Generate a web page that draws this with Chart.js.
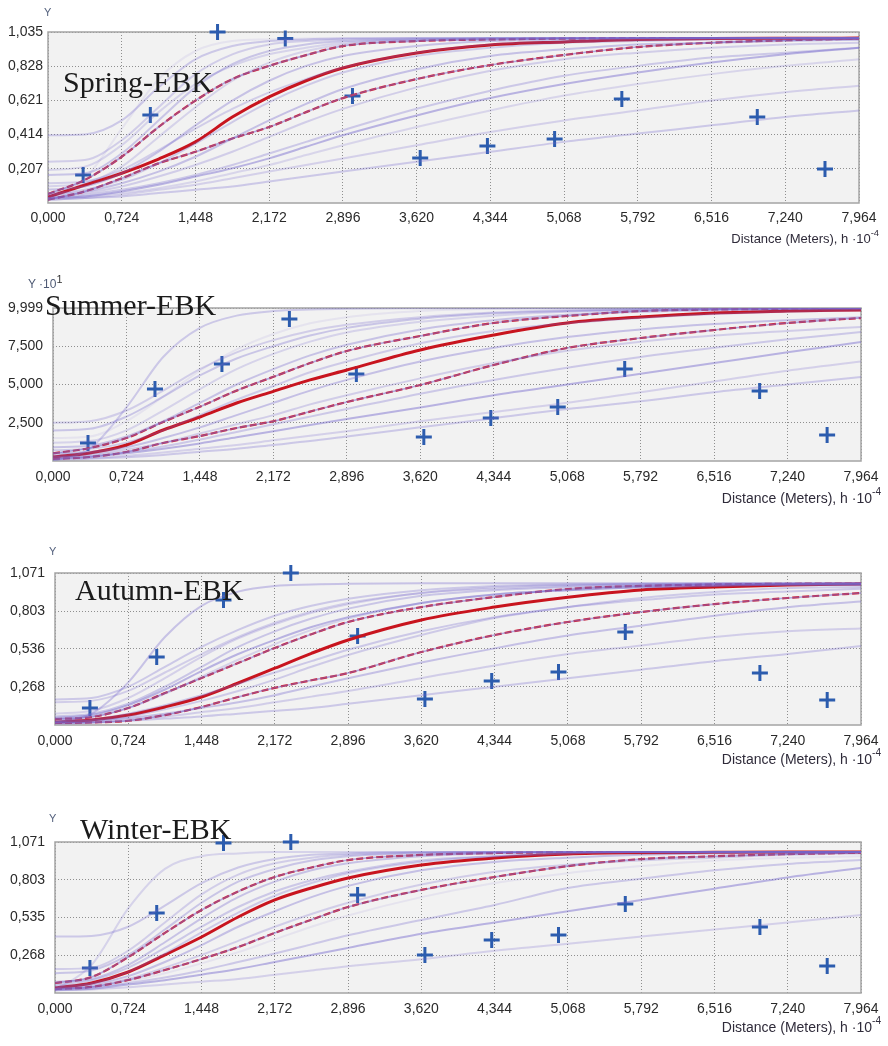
<!DOCTYPE html>
<html>
<head>
<meta charset="utf-8">
<title>EBK semivariograms by season</title>
<script src="https://cdn.jsdelivr.net/npm/chart.js@4.4.1/dist/chart.umd.min.js"></script>
<style>
  html, body { margin: 0; padding: 0; background: #ffffff; }
  #page { position: relative; width: 888px; height: 1046px; overflow: hidden; }
  .panel { position: absolute; left: 0; width: 888px; }
  .panel canvas { position: absolute; left: 0; top: 0; }
  .season { position: absolute; font-family: "Liberation Serif", "Times New Roman", serif; font-size: 30px;
            line-height: 1; color: #1b1b1b; white-space: nowrap; }
  .ylab { position: absolute; font-family: "Liberation Sans", Arial, sans-serif; font-size: 11px;
          line-height: 1; color: #55627e; white-space: nowrap; }
  .xcap { position: absolute; font-family: "Liberation Sans", Arial, sans-serif; font-size: 14px;
          line-height: 1; color: #2f2b3a; white-space: nowrap; }
  sup { font-size: 72%; vertical-align: top; position: relative; top: -0.35em; }
</style>
</head>
<body>
<div id="page">
  <div class="panel" style="top:0px;height:250px"><canvas id="springChart" width="888" height="250"></canvas></div>
  <div class="panel" style="top:260px;height:250px"><canvas id="summerChart" width="888" height="250"></canvas></div>
  <div class="panel" style="top:525px;height:250px"><canvas id="autumnChart" width="888" height="250"></canvas></div>
  <div class="panel" style="top:795px;height:251px"><canvas id="winterChart" width="888" height="251"></canvas></div>

  <div class="season" style="left:63px;top:67px">Spring-EBK</div>
  <div class="season" style="left:45px;top:290px">Summer-EBK</div>
  <div class="season" style="left:75px;top:575px">Autumn-EBK</div>
  <div class="season" style="left:80px;top:814px">Winter-EBK</div>

  <div class="ylab" style="left:44px;top:7px">Y</div>
  <div class="ylab" style="left:28px;top:278px;font-size:12px;color:#4e5a74">Y ·10<sup style="color:#333;font-size:90%">1</sup></div>
  <div class="ylab" style="left:49px;top:546px">Y</div>
  <div class="ylab" style="left:49px;top:813px">Y</div>

  <div class="xcap" style="right:9px;top:232px;font-size:13px">Distance (Meters), h ·10<sup>-4</sup></div>
  <div class="xcap" style="right:7px;top:491px">Distance (Meters), h ·10<sup>-4</sup></div>
  <div class="xcap" style="right:7px;top:752px">Distance (Meters), h ·10<sup>-4</sup></div>
  <div class="xcap" style="right:7px;top:1020px">Distance (Meters), h ·10<sup>-4</sup></div>
</div>

<script>
// ---- shared distances (h, in units of 10^4 m) ----
const lagDistances = [0.345, 1.005, 1.665, 2.33, 2.99, 3.655, 4.315, 4.975, 5.635, 6.965, 7.63];
const curveDistances = [0, 0.362, 0.724, 1.086, 1.448, 1.81, 2.172, 2.534, 2.896, 3.62, 4.344, 5.068, 5.792, 6.516, 7.24, 7.964];
const xTickValues = [0, 0.724, 1.448, 2.172, 2.896, 3.62, 4.344, 5.068, 5.792, 6.516, 7.24, 7.964];
const xTickLabels = ['0,000', '0,724', '1,448', '2,172', '2,896', '3,620', '4,344', '5,068', '5,792', '6,516', '7,240', '7,964'];

// ---- Spring ----
const springYTicks = [0.207, 0.414, 0.621, 0.828, 1.035];
const springYLabels = ['0,207', '0,414', '0,621', '0,828', '1,035'];
const springEmpirical = [0.17, 0.533, 1.035, 0.995, 0.648, 0.272, 0.345, 0.387, 0.63, 0.52, 0.206];
const springMedian = [0.036, 0.109, 0.18, 0.266, 0.37, 0.52, 0.642, 0.74, 0.817, 0.908, 0.956, 0.975, 0.99, 0.995, 0.997, 0.998];
const springUpper  = [0.055, 0.14, 0.28, 0.46, 0.62, 0.75, 0.83, 0.895, 0.95, 0.98, 0.99, 0.995, 0.997, 0.998, 0.998, 0.998];
const springLower  = [0.02, 0.07, 0.15, 0.24, 0.31, 0.39, 0.46, 0.55, 0.635, 0.75, 0.835, 0.896, 0.944, 0.97, 0.985, 0.995];
const springSpectrum = [
  [0.41, 0.415, 0.50, 0.70, 0.87, 0.95, 0.98, 0.99, 0.995, 0.998, 0.998, 0.998, 0.998, 0.998, 0.998, 0.998],
  [0.25, 0.26, 0.38, 0.58, 0.78, 0.90, 0.96, 0.98, 0.99, 0.995, 0.998, 0.998, 0.998, 0.998, 0.998, 0.998],
  [0.17, 0.18, 0.30, 0.50, 0.70, 0.84, 0.92, 0.96, 0.98, 0.99, 0.995, 0.998, 0.998, 0.998, 0.998, 0.998],
  [0.10, 0.12, 0.22, 0.40, 0.58, 0.74, 0.85, 0.92, 0.96, 0.985, 0.99, 0.995, 0.998, 0.998, 0.998, 0.998],
  [0.08, 0.10, 0.18, 0.31, 0.47, 0.62, 0.74, 0.83, 0.89, 0.95, 0.98, 0.99, 0.995, 0.998, 0.998, 0.998],
  [0.06, 0.08, 0.14, 0.24, 0.36, 0.49, 0.61, 0.71, 0.79, 0.89, 0.94, 0.97, 0.98, 0.99, 0.99, 0.99],
  [0.05, 0.07, 0.12, 0.19, 0.28, 0.39, 0.50, 0.60, 0.69, 0.81, 0.89, 0.93, 0.96, 0.97, 0.98, 0.99],
  [0.04, 0.06, 0.10, 0.16, 0.23, 0.31, 0.40, 0.49, 0.57, 0.70, 0.80, 0.87, 0.91, 0.94, 0.96, 0.97],
  [0.03, 0.05, 0.08, 0.12, 0.17, 0.23, 0.30, 0.37, 0.44, 0.57, 0.68, 0.77, 0.83, 0.88, 0.91, 0.94],
  [0.03, 0.04, 0.07, 0.11, 0.16, 0.21, 0.27, 0.34, 0.41, 0.53, 0.635, 0.72, 0.79, 0.85, 0.90, 0.94],
  [0.02, 0.03, 0.05, 0.08, 0.11, 0.15, 0.19, 0.23, 0.27, 0.35, 0.43, 0.50, 0.56, 0.62, 0.67, 0.71],
  [0.02, 0.03, 0.04, 0.06, 0.08, 0.10, 0.13, 0.16, 0.19, 0.25, 0.31, 0.37, 0.42, 0.47, 0.52, 0.56],
  [0.05, 0.15, 0.45, 0.75, 0.92, 0.98, 0.99, 0.995, 0.998, 0.998, 0.998, 0.998, 0.998, 0.998, 0.998, 0.998],
  [0.20, 0.22, 0.35, 0.55, 0.72, 0.83, 0.90, 0.94, 0.97, 0.99, 0.995, 0.998, 0.998, 0.998, 0.998, 0.998],
  [0.12, 0.13, 0.20, 0.32, 0.45, 0.57, 0.67, 0.75, 0.82, 0.91, 0.96, 0.98, 0.99, 0.995, 0.998, 0.998],
  [0.03, 0.04, 0.06, 0.09, 0.13, 0.18, 0.23, 0.29, 0.35, 0.46, 0.56, 0.65, 0.72, 0.78, 0.83, 0.87]
];

// ---- Summer (values in units of 10^1) ----
const summerYTicks = [2500, 5000, 7500, 9999];
const summerYLabels = ['2,500', '5,000', '7,500', '9,999'];
const summerEmpirical = [1176, 4705, 6339, 9280, 5686, 1568, 2810, 3529, 6012, 4575, 1699];
const summerMedian = [261, 523, 1046, 2026, 2876, 3790, 4550, 5300, 5947, 7254, 8235, 9020, 9410, 9673, 9800, 9868];
const summerUpper  = [500, 850, 1500, 2550, 3550, 4600, 5500, 6400, 7190, 8170, 9020, 9480, 9800, 9900, 9950, 9980];
const summerLower  = [131, 261, 588, 1176, 1634, 2157, 2600, 3230, 3856, 4967, 6274, 7385, 8038, 8561, 9020, 9346];
const summerSpectrum = [
  [0, 800, 3500, 6800, 8700, 9500, 9800, 9900, 9950, 9980, 9990, 9990, 9990, 9990, 9990, 9990],
  [2500, 2600, 3300, 4600, 6000, 7100, 7900, 8500, 8900, 9400, 9700, 9850, 9900, 9950, 9970, 9980],
  [2000, 2100, 2900, 4200, 5600, 6700, 7500, 8200, 8700, 9300, 9650, 9800, 9900, 9950, 9970, 9980],
  [1200, 1300, 2000, 3300, 4700, 6000, 7000, 7800, 8400, 9100, 9500, 9750, 9850, 9900, 9950, 9970],
  [900, 1000, 1600, 2600, 3800, 5000, 6000, 6900, 7600, 8600, 9200, 9550, 9750, 9850, 9900, 9950],
  [700, 800, 1200, 2000, 3000, 4000, 4900, 5800, 6500, 7700, 8500, 9000, 9350, 9600, 9750, 9850],
  [500, 600, 900, 1500, 2200, 3000, 3800, 4600, 5300, 6500, 7400, 8100, 8600, 8950, 9200, 9400],
  [400, 500, 750, 1200, 1800, 2400, 3000, 3700, 4300, 5400, 6400, 7200, 7800, 8200, 8500, 8760],
  [300, 400, 600, 950, 1400, 1900, 2400, 2900, 3400, 4400, 5300, 6100, 6800, 7400, 7950, 8430],
  [250, 300, 500, 800, 1150, 1550, 1950, 2350, 2750, 3500, 4300, 5000, 5700, 6400, 7100, 7780],
  [150, 200, 350, 550, 800, 1050, 1350, 1650, 1950, 2600, 3200, 3800, 4500, 5200, 5900, 6500],
  [100, 150, 250, 400, 600, 800, 1050, 1300, 1600, 2200, 2800, 3400, 3900, 4500, 5000, 5490],
  [1500, 1600, 2600, 4200, 5900, 7300, 8300, 9000, 9400, 9800, 9950, 9980, 9990, 9990, 9990, 9990]
];

// ---- Autumn ----
const autumnYTicks = [0.268, 0.536, 0.803, 1.071];
const autumnYLabels = ['0,268', '0,536', '0,803', '1,071'];
const autumnEmpirical = [0.12, 0.479, 0.881, 1.071, 0.627, 0.183, 0.31, 0.373, 0.655, 0.366, 0.176];
const autumnMedian = [0.021, 0.035, 0.07, 0.127, 0.197, 0.296, 0.40, 0.505, 0.599, 0.74, 0.831, 0.9, 0.951, 0.972, 0.986, 0.993];
const autumnUpper  = [0.042, 0.056, 0.12, 0.225, 0.331, 0.437, 0.543, 0.64, 0.726, 0.831, 0.902, 0.958, 0.98, 0.99, 0.995, 0.997];
const autumnLower  = [0.014, 0.018, 0.03, 0.07, 0.127, 0.197, 0.262, 0.315, 0.366, 0.514, 0.634, 0.726, 0.796, 0.852, 0.895, 0.93];
const autumnSpectrum = [
  [0.18, 0.19, 0.27, 0.41, 0.55, 0.67, 0.77, 0.84, 0.89, 0.95, 0.98, 0.99, 0.995, 0.997, 0.998, 0.998],
  [0.16, 0.17, 0.24, 0.37, 0.50, 0.62, 0.72, 0.80, 0.86, 0.93, 0.97, 0.985, 0.99, 0.995, 0.997, 0.998],
  [0.06, 0.08, 0.15, 0.27, 0.41, 0.55, 0.66, 0.75, 0.82, 0.91, 0.95, 0.97, 0.98, 0.99, 0.99, 0.99],
  [0.04, 0.06, 0.12, 0.22, 0.34, 0.46, 0.57, 0.67, 0.75, 0.86, 0.92, 0.95, 0.97, 0.98, 0.99, 0.99],
  [0.02, 0.08, 0.30, 0.62, 0.84, 0.94, 0.98, 0.99, 0.995, 0.998, 0.998, 0.998, 0.998, 0.998, 0.998, 0.998],
  [0.02, 0.03, 0.06, 0.11, 0.17, 0.24, 0.32, 0.41, 0.493, 0.634, 0.754, 0.831, 0.895, 0.937, 0.965, 0.972],
  [0.02, 0.03, 0.05, 0.08, 0.12, 0.16, 0.21, 0.27, 0.33, 0.44, 0.54, 0.63, 0.70, 0.77, 0.83, 0.87],
  [0.015, 0.02, 0.04, 0.06, 0.09, 0.12, 0.16, 0.20, 0.24, 0.33, 0.42, 0.50, 0.56, 0.62, 0.66, 0.68],
  [0.01, 0.015, 0.03, 0.045, 0.06, 0.08, 0.10, 0.12, 0.15, 0.21, 0.27, 0.33, 0.39, 0.45, 0.50, 0.557],
  [0.05, 0.07, 0.14, 0.25, 0.38, 0.50, 0.60, 0.69, 0.76, 0.86, 0.92, 0.95, 0.97, 0.98, 0.99, 0.99],
  [0.08, 0.10, 0.19, 0.33, 0.48, 0.61, 0.71, 0.79, 0.85, 0.93, 0.96, 0.98, 0.99, 0.99, 0.99, 0.99],
  [0.03, 0.04, 0.08, 0.14, 0.21, 0.29, 0.37, 0.45, 0.53, 0.66, 0.76, 0.83, 0.88, 0.92, 0.94, 0.96]
];

// ---- Winter ----
const winterYTicks = [0.268, 0.535, 0.803, 1.071];
const winterYLabels = ['0,268', '0,535', '0,803', '1,071'];
const winterEmpirical = [0.177, 0.567, 1.064, 1.071, 0.695, 0.27, 0.376, 0.411, 0.631, 0.468, 0.191];
const winterMedian = [0.035, 0.071, 0.149, 0.27, 0.397, 0.539, 0.66, 0.745, 0.816, 0.908, 0.958, 0.986, 0.995, 0.998, 1.0, 1.0];
const winterUpper  = [0.071, 0.113, 0.255, 0.426, 0.589, 0.72, 0.823, 0.89, 0.943, 0.979, 0.993, 0.998, 1.0, 1.0, 1.0, 1.0];
const winterLower  = [0.028, 0.043, 0.092, 0.163, 0.241, 0.326, 0.426, 0.52, 0.61, 0.731, 0.823, 0.9, 0.95, 0.97, 0.985, 0.995];
const winterSpectrum = [
  [0.40, 0.405, 0.47, 0.62, 0.78, 0.89, 0.95, 0.98, 0.99, 1.0, 1.0, 1.0, 1.0, 1.0, 1.0, 1.0],
  [0.17, 0.18, 0.30, 0.50, 0.70, 0.84, 0.92, 0.96, 0.98, 0.995, 1.0, 1.0, 1.0, 1.0, 1.0, 1.0],
  [0.14, 0.16, 0.27, 0.45, 0.64, 0.79, 0.88, 0.94, 0.97, 0.99, 1.0, 1.0, 1.0, 1.0, 1.0, 1.0],
  [0.02, 0.20, 0.60, 0.88, 0.97, 0.99, 1.0, 1.0, 1.0, 1.0, 1.0, 1.0, 1.0, 1.0, 1.0, 1.0],
  [0.08, 0.10, 0.20, 0.36, 0.53, 0.68, 0.79, 0.87, 0.92, 0.97, 0.99, 1.0, 1.0, 1.0, 1.0, 1.0],
  [0.05, 0.07, 0.15, 0.28, 0.43, 0.57, 0.69, 0.78, 0.85, 0.93, 0.97, 0.99, 1.0, 1.0, 1.0, 1.0],
  [0.04, 0.06, 0.12, 0.22, 0.34, 0.47, 0.58, 0.68, 0.76, 0.87, 0.93, 0.96, 0.98, 0.99, 0.99, 1.0],
  [0.03, 0.05, 0.10, 0.18, 0.27, 0.37, 0.47, 0.56, 0.64, 0.77, 0.86, 0.91, 0.94, 0.96, 0.98, 0.99],
  [0.03, 0.04, 0.07, 0.11, 0.16, 0.22, 0.28, 0.345, 0.41, 0.518, 0.624, 0.745, 0.81, 0.87, 0.915, 0.943],
  [0.02, 0.03, 0.06, 0.09, 0.13, 0.17, 0.22, 0.27, 0.32, 0.42, 0.50, 0.58, 0.66, 0.74, 0.82, 0.887],
  [0.02, 0.025, 0.04, 0.06, 0.08, 0.10, 0.13, 0.16, 0.19, 0.24, 0.30, 0.35, 0.40, 0.45, 0.50, 0.553],
  [0.06, 0.09, 0.18, 0.32, 0.47, 0.61, 0.72, 0.80, 0.86, 0.94, 0.97, 0.99, 1.0, 1.0, 1.0, 1.0],
  [0.03, 0.04, 0.08, 0.14, 0.21, 0.29, 0.38, 0.47, 0.55, 0.68, 0.78, 0.85, 0.90, 0.94, 0.96, 0.97]
];

// ---- drawing ----
const TICK_FONT = { family: '"Liberation Sans", Arial, sans-serif', size: 14 };
const TICK_COLOR = '#2a2a2a';
const SPECTRUM_RGB = '116, 102, 204';
// opacity of each model curve in the spectrum (cycled)
const spectrumFades = [0.30, 0.26, 0.32, 0.22, 0.34, 0.28, 0.36, 0.26, 0.30, 0.46, 0.24, 0.30, 0.10, 0.22, 0.26, 0.20];

const plotFrame = {
  id: 'plotFrame',
  beforeDraw(chart) {
    const { ctx, chartArea: a } = chart;
    ctx.save();
    ctx.fillStyle = '#f2f2f2';
    ctx.fillRect(a.left, a.top, a.right - a.left, a.bottom - a.top);
    ctx.restore();
  },
  beforeDatasetsDraw(chart) {
    const { ctx, chartArea: a } = chart;
    ctx.save();
    ctx.strokeStyle = '#a4a4a4';
    ctx.lineWidth = 1.5;
    ctx.strokeRect(a.left, a.top, a.right - a.left, a.bottom - a.top);
    ctx.restore();
  }
};

function curve(values) {
  return curveDistances.map((x, i) => ({ x: x, y: values[i] }));
}

function buildChart(canvasId, season, layoutBox) {
  const datasets = [];
  season.spectrum.forEach((vals, i) => {
    datasets.push({
      type: 'line', data: curve(vals),
      borderColor: 'rgba(' + SPECTRUM_RGB + ',' + spectrumFades[i % spectrumFades.length] + ')',
      borderWidth: 2, pointRadius: 0, cubicInterpolationMode: 'monotone'
    });
  });
  // quantile curves: a thin purple model line with red dashes laid over it
  [season.upper, season.lower].forEach(vals => {
    datasets.push({
      type: 'line', data: curve(vals), borderColor: 'rgba(128, 104, 196, 0.55)',
      borderWidth: 1.6, pointRadius: 0, cubicInterpolationMode: 'monotone'
    });
    datasets.push({
      type: 'line', data: curve(vals), borderColor: '#d81f2a', borderDash: [7, 3],
      borderWidth: 2.2, pointRadius: 0, cubicInterpolationMode: 'monotone'
    });
  });
  datasets.push({
    type: 'line', data: curve(season.median), borderColor: '#c8141e',
    borderWidth: 3, pointRadius: 0, cubicInterpolationMode: 'monotone'
  });
  datasets.push({
    type: 'scatter', data: lagDistances.map((x, i) => ({ x: x, y: season.empirical[i] })),
    pointStyle: 'cross', pointRadius: 8, borderWidth: 3, borderColor: '#2c5cae',
    backgroundColor: '#2c5cae', clip: false
  });

  return new Chart(document.getElementById(canvasId), {
    type: 'line',
    data: { datasets: datasets },
    plugins: [plotFrame],
    options: {
      responsive: false, animation: false, events: [],
      layout: { padding: { left: 0, right: layoutBox.rightPad, top: layoutBox.topPad, bottom: 0 } },
      plugins: { legend: { display: false }, tooltip: { enabled: false } },
      scales: {
        x: {
          type: 'linear', min: 0, max: 7.964,
          afterBuildTicks: s => { s.ticks = xTickValues.map(v => ({ value: v })); },
          afterFit: s => { s.height = layoutBox.xAxisHeight; },
          ticks: { callback: (v, i) => xTickLabels[i], autoSkip: false, maxRotation: 0,
                   padding: layoutBox.xPad, color: TICK_COLOR, font: TICK_FONT },
          grid: { color: '#8f8f8f', lineWidth: 1, drawTicks: false },
          border: { display: false, dash: [1, 2] }
        },
        y: {
          type: 'linear', min: 0, max: season.yMax,
          afterBuildTicks: s => { s.ticks = season.yTicks.map(v => ({ value: v })); },
          afterFit: s => { s.width = layoutBox.yAxisWidth; },
          ticks: { callback: (v, i) => season.yLabels[i], padding: layoutBox.yPad,
                   color: TICK_COLOR, font: TICK_FONT },
          grid: { color: '#8f8f8f', lineWidth: 1, drawTicks: false },
          border: { display: false, dash: [1, 2] }
        }
      }
    }
  });
}

buildChart('springChart',
  { spectrum: springSpectrum, median: springMedian, upper: springUpper, lower: springLower,
    empirical: springEmpirical, yMax: 1.035, yTicks: springYTicks, yLabels: springYLabels },
  { topPad: 32, rightPad: 29, yAxisWidth: 48, xAxisHeight: 47, xPad: 7, yPad: 5 });

buildChart('summerChart',
  { spectrum: summerSpectrum, median: summerMedian, upper: summerUpper, lower: summerLower,
    empirical: summerEmpirical, yMax: 9999, yTicks: summerYTicks, yLabels: summerYLabels },
  { topPad: 48, rightPad: 27, yAxisWidth: 53, xAxisHeight: 49, xPad: 8, yPad: 10 });

buildChart('autumnChart',
  { spectrum: autumnSpectrum, median: autumnMedian, upper: autumnUpper, lower: autumnLower,
    empirical: autumnEmpirical, yMax: 1.071, yTicks: autumnYTicks, yLabels: autumnYLabels },
  { topPad: 48, rightPad: 27, yAxisWidth: 55, xAxisHeight: 50, xPad: 8, yPad: 10 });

buildChart('winterChart',
  { spectrum: winterSpectrum, median: winterMedian, upper: winterUpper, lower: winterLower,
    empirical: winterEmpirical, yMax: 1.071, yTicks: winterYTicks, yLabels: winterYLabels },
  { topPad: 47, rightPad: 27, yAxisWidth: 55, xAxisHeight: 53, xPad: 8, yPad: 10 });
</script>
</body>
</html>
